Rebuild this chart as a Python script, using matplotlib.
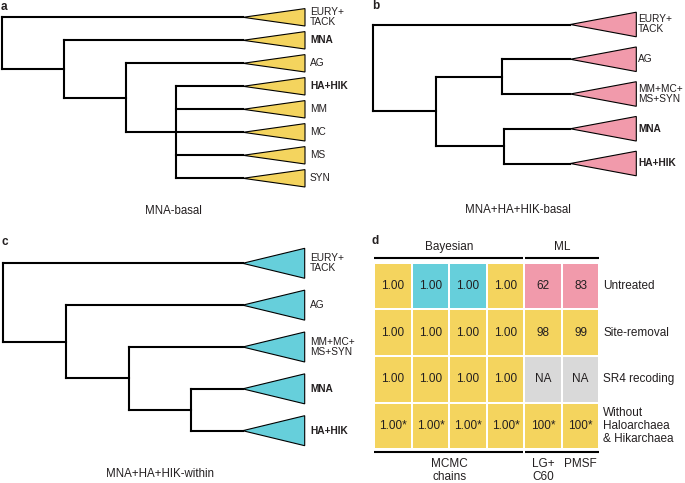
import matplotlib
matplotlib.use("Agg")
import matplotlib.pyplot as plt
from matplotlib.patches import Polygon
from matplotlib.colors import ListedColormap
import numpy as np

plt.rcParams['font.family'] = ['Liberation Sans', 'DejaVu Sans']

# ---------------- data ----------------
YELLOW = '#F4D45E'
PINK = '#F19AAB'
CYAN = '#66CFDB'
GRAY = '#D9D9D9'
TXT = '#231F20'

# trees: (node depth, [children]); leaves are clade names
tree_a = (0, ['EURY+\nTACK', (62, ['MNA', (124, ['AG', (174, ['HA+HIK', 'MM', 'MC', 'MS', 'SYN'])])])])
tree_b = (0, ['EURY+\nTACK', (63, [(129, ['AG', 'MM+MC+\nMS+SYN']), (131, ['MNA', 'HA+HIK'])])])
tree_c = (0, ['EURY+\nTACK', (63, ['AG', (126, ['MM+MC+\nMS+SYN', (188, ['MNA', 'HA+HIK'])])])])
bold_clades = {'MNA', 'HA+HIK'}

captions = ['MNA-basal', 'MNA+HA+HIK-basal', 'MNA+HA+HIK-within']

# table (panel d)
row_labels = ['Untreated', 'Site-removal', 'SR4 recoding', 'Without\nHaloarchaea\n& Hikarchaea']
values = [
    ['1.00', '1.00', '1.00', '1.00', '62', '83'],
    ['1.00', '1.00', '1.00', '1.00', '98', '99'],
    ['1.00', '1.00', '1.00', '1.00', 'NA', 'NA'],
    ['1.00*', '1.00*', '1.00*', '1.00*', '100*', '100*'],
]
# supported topology: 0 = MNA-basal, 1 = MNA+HA+HIK-basal, 2 = MNA+HA+HIK-within, 3 = NA
topology = [
    [0, 2, 2, 0, 1, 1],
    [0, 0, 0, 0, 0, 0],
    [0, 0, 0, 0, 3, 3],
    [0, 0, 0, 0, 0, 0],
]
group_labels = ['Bayesian', 'ML']
group_span = [(0, 4), (4, 6)]
col_footer = [('MCMC\nchains', 0, 4), ('LG+\nC60', 4, 5), ('PMSF', 5, 6)]

# ---------------- figure ----------------
W, H = 685, 483
fig = plt.figure(figsize=(W / 100, H / 100), dpi=100)
ax = fig.add_axes([0, 0, 1, 1])
ax.set_xlim(0, W)
ax.set_ylim(H, 0)
ax.axis('off')


def draw_tree(tree, x0, y0, dy, apex, base, half, color, label_x, fs=7.3):
    counter = [0]

    def layout(node):
        if isinstance(node, str):
            y = y0 + counter[0] * dy
            counter[0] += 1
            return y, apex
        depth, children = node
        info = [layout(c) for c in children]
        ys = [i[0] for i in info]
        xn = x0 + depth
        ax.plot([xn, xn], [min(ys), max(ys)], color='black', lw=1.5,
                solid_capstyle='projecting', zorder=2)
        for (yc, dc) in info:
            ax.plot([xn, x0 + dc], [yc, yc], color='black', lw=1.5,
                    solid_capstyle='projecting', zorder=2)
        for c, (yc, dc) in zip(children, info):
            if isinstance(c, str):
                tri = Polygon([(x0 + apex, yc), (x0 + base, yc - half), (x0 + base, yc + half)],
                              closed=True, facecolor=color, edgecolor='black', lw=0.8, zorder=3)
                ax.add_patch(tri)
                ax.text(label_x, yc, c, fontsize=fs, va='center', ha='left', color=TXT,
                        fontweight='bold' if c in bold_clades else 'normal', linespacing=1.0)
        return (min(ys) + max(ys)) / 2, depth

    layout(tree)


draw_tree(tree_a, 2, 17.3, 23.0, 241, 303, 8.7, YELLOW, 310)
draw_tree(tree_b, 373.3, 24.5, 34.75, 197, 263, 12.3, PINK, 638)
draw_tree(tree_c, 2.7, 263.3, 41.85, 240, 302, 15.0, CYAN, 310)

ax.text(173, 211, captions[0], fontsize=8.3, ha='center', va='center', color=TXT)
ax.text(518, 210, captions[1], fontsize=8.3, ha='center', va='center', color=TXT)
ax.text(160, 474, captions[2], fontsize=8.3, ha='center', va='center', color=TXT)

for lab, x, y in [('a', 1, 7), ('b', 372, 6), ('c', 1, 242), ('d', 372, 241)]:
    ax.text(x, y, lab, fontsize=8.5, fontweight='bold', ha='left', va='center', color=TXT)

# ---------------- panel d ----------------
gx0, gx1, gy0, gy1 = 374.3, 599.3, 262.7, 449.3
axd = fig.add_axes([gx0 / W, 1 - gy1 / H, (gx1 - gx0) / W, (gy1 - gy0) / H])
nrow, ncol = len(values), len(values[0])
cmap = ListedColormap([YELLOW, PINK, CYAN, GRAY])
arr = np.array(topology)
axd.pcolormesh(np.arange(ncol + 1), np.arange(nrow + 1), arr, cmap=cmap, vmin=-0.5, vmax=3.5,
               edgecolors='white', linewidth=1.4)
axd.set_xlim(0, ncol)
axd.set_ylim(nrow, 0)
axd.axis('off')
for i in range(nrow):
    for j in range(ncol):
        axd.text(j + 0.5, i + 0.5, values[i][j], ha='center', va='center', fontsize=8.5, color=TXT)

cw = (gx1 - gx0) / ncol
rh = (gy1 - gy0) / nrow
top_line = -4.4 / rh
bot_line = nrow + 2.7 / rh
gap = 1.0 / cw
for (a, b), lab in zip(group_span, group_labels):
    xa = a + (gap if a > 0 else 0)
    xb = b - (gap if b < ncol else 0)
    axd.plot([xa, xb], [top_line, top_line], color='black', lw=1.5, clip_on=False,
             solid_capstyle='butt')
    axd.plot([xa, xb], [bot_line, bot_line], color='black', lw=1.5, clip_on=False,
             solid_capstyle='butt')
    axd.text((a + b) / 2, -16 / rh, lab, ha='center', va='center', fontsize=8.5, color=TXT,
             clip_on=False)

for lab, a, b in col_footer:
    axd.text((a + b) / 2, nrow + 9.0 / rh, lab, ha='center', va='top', fontsize=8.5, color=TXT,
             clip_on=False, linespacing=1.05)

for i, lab in enumerate(row_labels):
    axd.text(ncol + 4 / cw, i + 0.5, lab, ha='left', va='center', fontsize=8.5, color=TXT,
             clip_on=False, linespacing=1.1)

fig.savefig('out.png', dpi=100)
